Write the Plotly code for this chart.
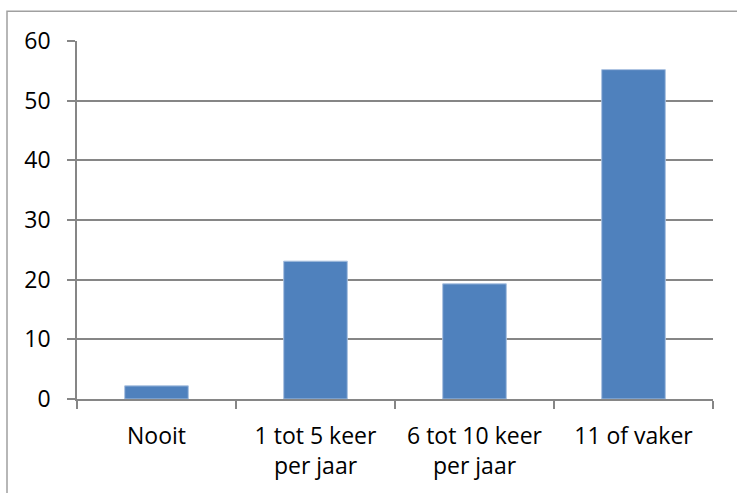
import plotly.graph_objects as go

categories = ["Nooit", "1 tot 5 keer<br>per jaar", "6 tot 10 keer<br>per jaar", "11 of vaker"]
values = [2.2, 23.1, 19.3, 55.2]
y_ticks = [0, 10, 20, 30, 40, 50, 60]

W, H = 737, 493
L, R, T, B = 77, 24, 41, 91
pw, ph = W - L - R, H - T - B

FONT = dict(family="Open Sans, Noto Sans, sans-serif", size=23, color="#000000")
GRID = "#868686"

fig = go.Figure(go.Bar(
    x=categories, y=values, width=0.4,
    marker=dict(color="#4F81BD", line=dict(color="#A9C1E0", width=1)),
    hoverinfo="x+y",
))

def px_x(p):
    return (p - L) / pw

def px_y(p):
    return 1 - (p - T) / ph

fig.update_layout(
    width=W, height=H,
    margin=dict(l=L, r=R, t=T, b=B, pad=0),
    paper_bgcolor="white", plot_bgcolor="white",
    font=FONT,
    showlegend=False,
    xaxis=dict(
        type="category", range=[-0.5, 3.5],
        showline=True, linecolor=GRID, linewidth=1.5,
        ticks="outside", tickson="boundaries", ticklen=8, tickcolor=GRID, tickwidth=1.5,
        showgrid=False, tickfont=FONT, ticklabelstandoff=16,
    ),
    yaxis=dict(
        range=[0, 60], tickvals=y_ticks,
        showline=True, linecolor=GRID, linewidth=1.5,
        ticks="outside", ticklen=8, tickcolor=GRID, tickwidth=1.5,
        showgrid=True, gridcolor=GRID, gridwidth=1.5,
        zeroline=False, tickfont=FONT, ticklabelstandoff=12,
    ),
    shapes=[dict(
        type="rect", xref="paper", yref="paper",
        x0=px_x(7), x1=px_x(W + 20), y0=px_y(11), y1=px_y(H + 20),
        line=dict(color="#A0A0A0", width=1.5), fillcolor="rgba(0,0,0,0)",
        layer="below",
    )],
)

fig.write_html("out.html", config={"displayModeBar": False},
               post_script="document.body.style.margin='0';")
